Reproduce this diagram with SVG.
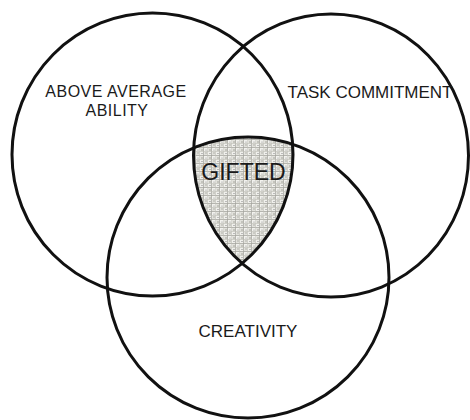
<svg xmlns="http://www.w3.org/2000/svg" width="470" height="420" viewBox="0 0 470 420">
<style>
.ring{fill:none;stroke:#111;stroke-width:3}
.lbl{font-family:"Liberation Sans",Arial,sans-serif;font-size:17px;fill:#1a1a1a;text-anchor:middle}
.two{font-size:16px;letter-spacing:0.5px}
.big{font-size:23px}
</style>
<defs>
<pattern id="weave" width="8" height="8" patternUnits="userSpaceOnUse">
<rect width="8" height="8" fill="#e2e2dc"/>
<rect x="0" y="0" width="4" height="3" fill="#f0f0ec"/>
<rect x="4" y="4" width="4" height="3" fill="#f2f2ee"/>
<rect x="5" y="0" width="2" height="2" fill="#cacac4"/>
<rect x="1" y="5" width="2" height="2" fill="#c4c4bd"/>
<path d="M0 3.5H8M3.5 0V8" stroke="#a2a29c" stroke-width="0.7"/>
<path d="M0 7.5H8M7.5 0V8" stroke="#bebeb7" stroke-width="0.5"/>
<circle cx="2" cy="1.5" r="0.6" fill="#7a7a7a"/>
<circle cx="6" cy="6" r="0.6" fill="#858585"/>
</pattern>
<clipPath id="cA"><ellipse cx="152.5" cy="154.5" rx="140.5" ry="141.5"/></clipPath>
<clipPath id="cB"><ellipse cx="331" cy="155.5" rx="137.5" ry="141.5"/></clipPath>
</defs>
<g id="gifted-fill" clip-path="url(#cA)">
<g clip-path="url(#cB)">
<ellipse cx="248" cy="277.5" rx="141" ry="140.5" fill="url(#weave)"/>
</g>
</g>
<g id="connectors"></g>
<g id="ability">
<ellipse class="ring" cx="152.5" cy="154.5" rx="140.5" ry="141.5"/>
<text class="lbl two" x="116" y="97">ABOVE AVERAGE</text>
<text class="lbl two" x="117" y="115.5">ABILITY</text>
</g>
<g id="commitment">
<ellipse class="ring" cx="331" cy="155.5" rx="137.5" ry="141.5"/>
<text class="lbl" x="370" y="98">TASK COMMITMENT</text>
</g>
<g id="creativity">
<ellipse class="ring" cx="248" cy="277.5" rx="141" ry="140.5"/>
<text class="lbl" x="248" y="336.5">CREATIVITY</text>
</g>
<g id="gifted">
<text class="lbl big" x="243.5" y="180">GIFTED</text>
</g>
</svg>
